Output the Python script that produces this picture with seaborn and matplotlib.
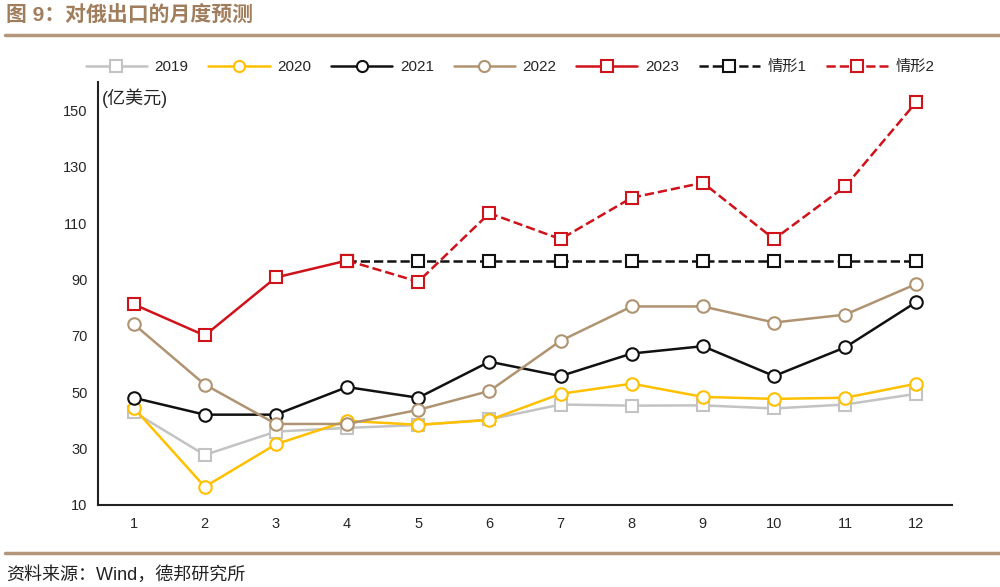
import numpy as np
import pandas as pd
import seaborn as sns
import matplotlib.pyplot as plt
from matplotlib.lines import Line2D

months = list(range(1, 13))
y2019 = [43, 27.7, 36, 37.3, 38.3, 40.3, 45.6, 45.2, 45.3, 44.2, 45.6, 49.4]
y2020 = [44.5, 16.4, 31.5, 39.8, 38.4, 40.1, 49.4, 53, 48.3, 47.6, 48, 53]
y2021 = [48, 42, 42, 51.8, 48, 60.8, 55.7, 63.7, 66.3, 55.7, 65.9, 82]
y2022 = [74.2, 52.7, 38.7, 38.7, 43.7, 50.4, 68.2, 80.4, 80.4, 74.7, 77.5, 88.4]
y2023 = [81.2, 70.1, 90.7, 96.7]
scen_months = list(range(4, 13))
scen1 = [96.7] * 9
scen2 = [96.7, 89.2, 113.5, 104.3, 119, 124.3, 104.3, 123, 153]

sns.set_theme(style='white')
plt.rcParams['font.family'] = ['Liberation Sans', 'Noto Sans CJK SC', 'DejaVu Sans']

fig = plt.figure(figsize=(10, 5.87), dpi=100)
ax = fig.add_axes([0.098, 0.14, 0.854, 0.72])

series = [
    ('2019', months, y2019, '#c3c3c3', 's', '-'),
    ('2020', months, y2020, '#ffc000', 'o', '-'),
    ('2021', months, y2021, '#111111', 'o', '-'),
    ('2022', months, y2022, '#b09472', 'o', '-'),
    ('2023', months[:4], y2023, '#d0121b', 's', '-'),
    ('情形1', scen_months, scen1, '#111111', 's', '--'),
    ('情形2', scen_months, scen2, '#d0121b', 's', '--'),
]

handles = []
for i, (name, xs, ys, col, mk, ls) in enumerate(series):
    df = pd.DataFrame({'月': xs, '值': ys})
    z = 3 + i
    if name == '情形1':
        z = 2.5
    sns.lineplot(data=df, x='月', y='值', ax=ax, color=col, linestyle=ls,
                 linewidth=1.8, marker=mk, markersize=9, markerfacecolor='white',
                 markeredgecolor=col, markeredgewidth=1.5, zorder=z)
    handles.append(Line2D([], [], color=col, linestyle=ls, linewidth=1.8, marker=mk,
                          markersize=8, markerfacecolor='white', markeredgecolor=col,
                          markeredgewidth=1.5, label=name))

ax.set_xlim(0.5, 12.5)
ax.set_ylim(10, 160)
ax.set_yticks(np.arange(10, 151, 20))
ax.set_xticks(months)
ax.set_xticks(np.arange(0.5, 12.6, 1), minor=True)
ax.tick_params(axis='x', which='major', length=0, labelsize=10.5, pad=9)
ax.tick_params(axis='x', which='minor', direction='out', length=4, width=1.2, color='#333333')
ax.tick_params(axis='y', direction='out', length=4, width=1.2, color='#333333', labelsize=10.5)
ax.set_xlabel('')
ax.set_ylabel('')
for s in ['top', 'right']:
    ax.spines[s].set_visible(False)
for s in ['left', 'bottom']:
    ax.spines[s].set_color('#222222')
    ax.spines[s].set_linewidth(1.5)

ax.text(0.005, 0.985, '(亿美元)', transform=ax.transAxes, fontsize=13, va='top', ha='left')

fig.legend(handles=handles, loc='center', bbox_to_anchor=(0.51, 0.886), ncol=7,
           frameon=False, fontsize=11, handlelength=4, columnspacing=1.3, handletextpad=0.5)

brown = '#a07d5c'
fig.text(0.006, 0.973, '图 9：对俄出口的月度预测', fontsize=15, fontweight='bold',
         color=brown, va='center', ha='left')
fig.add_artist(Line2D([0.005, 1.0], [0.94, 0.94], color='#b4977a', linewidth=2.5))
fig.add_artist(Line2D([0.005, 1.0], [0.058, 0.058], color='#b4977a', linewidth=2.5))
fig.text(0.006, 0.02, '资料来源：Wind，德邦研究所', fontsize=13, color='#222222',
         va='center', ha='left')

fig.savefig('out.png', dpi=100)
